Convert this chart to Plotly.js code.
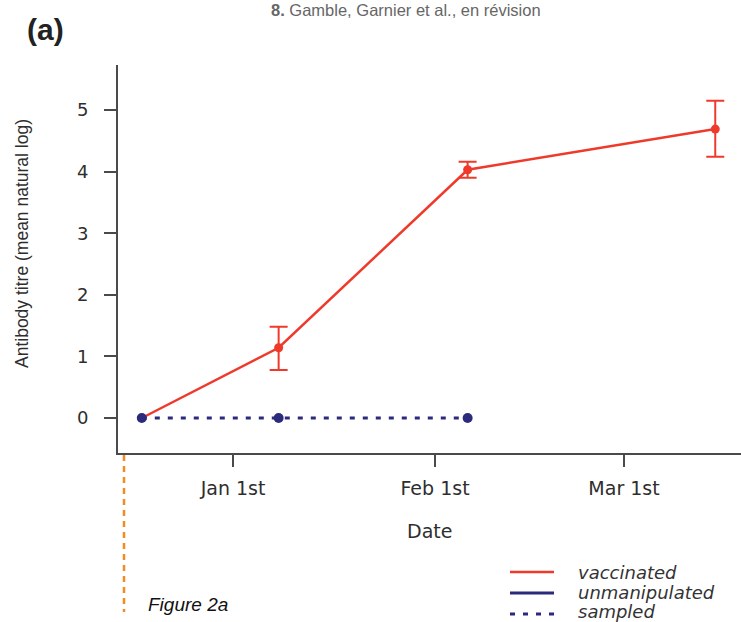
<!DOCTYPE html>
<html><head><meta charset="utf-8">
<script src="https://cdn.plot.ly/plotly-3.0.1.min.js"></script>
<style>html,body{margin:0;padding:0;background:#fff;}</style>
</head><body>
<div id="chart" style="width:741px;height:622px;"></div>
<script>
// ---- data ----
const sampledDates = ['2011-12-18', '2012-01-08', '2012-02-06'];
const sampledValues = [0, 0, 0];
const vaccDates = ['2011-12-18', '2012-01-08', '2012-02-06', '2012-03-15'];
const vaccValues = [0, 1.14, 4.03, 4.69];
const vaccErrPlus = [0, 0.34, 0.13, 0.46];
const vaccErrMinus = [0, 0.36, 0.13, 0.45];
const tickDates = ['2012-01-01', '2012-02-01', '2012-03-01'];
const tickLabels = ['Jan 1st', 'Feb 1st', 'Mar 1st'];
const yTicks = [0, 1, 2, 3, 4, 5];
const legendLabels = ['vaccinated', 'unmanipulated', 'sampled'];

// ---- styles ----
const RED = '#ef3a2b';
const NAVY = '#2b2a7c';
const AX = '#4a4a4a';
const W = 741, H = 622, L = 118, R = 0, T = 65, B = 169;
const PW = W - L - R, PH = H - T - B;
const px = v => (v - L) / PW;
const py = v => (H - B - v) / PH;

const traces = [
  {x: vaccDates, y: vaccValues, mode: 'lines', line: {color: RED, width: 2.5}, hoverinfo: 'skip'},
  {x: vaccDates.slice(1), y: vaccValues.slice(1), mode: 'markers',
   marker: {color: RED, size: 9},
   error_y: {type: 'data', symmetric: false, array: vaccErrPlus.slice(1), arrayminus: vaccErrMinus.slice(1),
             color: RED, thickness: 2, width: 9}},
  {x: sampledDates, y: sampledValues, mode: 'lines+markers',
   line: {color: NAVY, width: 3, dash: '5px,8px'},
   marker: {color: NAVY, size: 10}}
];

const tickFont = {family: 'DejaVu Sans, Arial, sans-serif', size: 18, color: '#2e2e2e'};
const xTickFont = {family: 'DejaVu Sans, Arial, sans-serif', size: 19, color: '#2e2e2e'};

const annotations = [
  {text: 'Antibody titre (mean natural log)', xref: 'paper', yref: 'paper', x: px(22), y: py(244),
   textangle: -90, showarrow: false, xanchor: 'center', yanchor: 'middle',
   font: {family: 'Liberation Sans, Arial, sans-serif', size: 17.5, color: '#2e2e2e'}},
  {text: 'Date', xref: 'paper', yref: 'paper', x: px(429), y: py(531), showarrow: false,
   xanchor: 'center', yanchor: 'middle', font: xTickFont},
  {text: '(a)', xref: 'paper', yref: 'paper', x: px(25), y: py(29), showarrow: false,
   xanchor: 'left', yanchor: 'middle',
   font: {family: 'Liberation Sans, Arial, sans-serif', size: 30, color: '#222', weight: 'bold'}},
  {text: '<b>8.</b> Gamble, Garnier et al., en révision', xref: 'paper', yref: 'paper', x: px(406), y: py(10),
   showarrow: false, xanchor: 'center', yanchor: 'middle',
   font: {family: 'Liberation Sans, Arial, sans-serif', size: 16.5, color: '#666'}},
  {text: '<i>Figure 2a</i>', xref: 'paper', yref: 'paper', x: px(146), y: py(604), showarrow: false,
   xanchor: 'left', yanchor: 'middle',
   font: {family: 'Liberation Sans, Arial, sans-serif', size: 19, color: '#111'}}
];
const legendY = [572, 592, 611];
legendLabels.forEach((t, i) => annotations.push({
  text: '<i>' + t + '</i>', xref: 'paper', yref: 'paper', x: px(576), y: py(legendY[i]), showarrow: false,
  xanchor: 'left', yanchor: 'middle',
  font: {family: 'DejaVu Sans, Arial, sans-serif', size: 18, color: '#333'}
}));

const shapes = [
  {type: 'line', xref: 'paper', yref: 'paper', x0: px(510), x1: px(554), y0: py(legendY[0]), y1: py(legendY[0]),
   line: {color: RED, width: 2.5}},
  {type: 'line', xref: 'paper', yref: 'paper', x0: px(510), x1: px(554), y0: py(legendY[1] + 1), y1: py(legendY[1] + 1),
   line: {color: NAVY, width: 3}},
  {type: 'line', xref: 'paper', yref: 'paper', x0: px(510), x1: px(554), y0: py(legendY[2] + 3), y1: py(legendY[2] + 3),
   line: {color: NAVY, width: 3, dash: '5px,8px'}},
  {type: 'line', xref: 'paper', yref: 'paper', x0: px(124), x1: px(124), y0: py(455), y1: py(612),
   line: {color: '#f28c1e', width: 2.5, dash: '6px,5px'}}
];

const layout = {
  width: W, height: H,
  margin: {l: L, r: R, t: T, b: B, pad: 0},
  paper_bgcolor: '#fff', plot_bgcolor: '#fff',
  showlegend: false,
  xaxis: {type: 'date', range: ['2011-12-14 08:24', '2012-03-18 22:48'],
          tickmode: 'array', tickvals: tickDates, ticktext: tickLabels,
          ticks: 'outside', ticklen: 12, tickwidth: 2, tickcolor: AX,
          showline: true, linecolor: AX, linewidth: 2, showgrid: false, zeroline: false,
          tickfont: xTickFont, ticklabelstandoff: 5, fixedrange: true},
  yaxis: {range: [-0.568, 5.73], tickmode: 'array', tickvals: yTicks,
          ticks: 'outside', ticklen: 12, tickwidth: 2, tickcolor: AX,
          showline: true, linecolor: AX, linewidth: 2, showgrid: false, zeroline: false,
          tickfont: tickFont, ticklabelstandoff: 12, fixedrange: true},
  annotations: annotations,
  shapes: shapes
};

Plotly.newPlot('chart', traces, layout, {displayModeBar: false, staticPlot: true});
</script>
</body></html>
